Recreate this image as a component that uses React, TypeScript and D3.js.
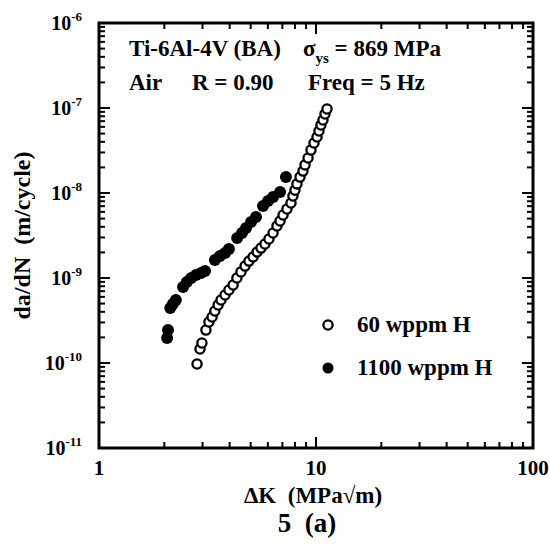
import React from "react";
import * as d3 from "d3";

// 60 wppm H (open circles)
const openK = [2.83, 2.92, 2.98, 3.11, 3.21, 3.32, 3.42, 3.54, 3.65, 3.81, 3.97, 4.15, 4.32, 4.51, 4.71, 4.91, 5.13, 5.35, 5.58, 5.82, 6.07, 6.34, 6.61, 6.83, 7.05, 7.35, 7.67, 7.83, 8.0, 8.17, 8.44, 8.71, 8.9, 9.19, 9.48, 9.79, 10.11, 10.32, 10.54, 10.77, 11.0, 11.24];
const openRate = [9.73e-11, 1.46e-10, 1.72e-10, 2.44e-10, 3.04e-10, 3.48e-10, 4.09e-10, 4.81e-10, 5.51e-10, 6.31e-10, 7.22e-10, 8.27e-10, 1.0e-9, 1.18e-9, 1.38e-9, 1.58e-9, 1.77e-9, 2.02e-9, 2.25e-9, 2.51e-9, 2.88e-9, 3.38e-9, 4.09e-9, 4.68e-9, 5.51e-9, 6.48e-9, 7.62e-9, 9.22e-9, 1.08e-8, 1.28e-8, 1.54e-8, 1.81e-8, 2.14e-8, 2.58e-8, 3.2e-8, 3.87e-8, 4.56e-8, 5.36e-8, 6.31e-8, 7.22e-8, 8.5e-8, 9.73e-8];

// 1100 wppm H (filled circles)
const filledK = [2.06, 2.08, 2.13, 2.19, 2.26, 2.44, 2.54, 2.66, 2.8, 2.95, 3.08, 3.42, 3.61, 3.81, 3.97, 4.33, 4.56, 4.76, 5.02, 5.29, 5.7, 6.01, 6.34, 6.83, 7.27];
const filledRate = [1.97e-10, 2.44e-10, 4.44e-10, 4.94e-10, 5.51e-10, 7.84e-10, 8.97e-10, 1.0e-9, 1.085e-9, 1.145e-9, 1.21e-9, 1.63e-9, 1.815e-9, 1.97e-9, 2.19e-9, 2.96e-9, 3.38e-9, 3.87e-9, 4.56e-9, 5.22e-9, 7.03e-9, 8.05e-9, 8.97e-9, 1.03e-8, 1.54e-8];

const xTickValues = [1, 10, 100];
const xTickLabels = ["1", "10", "100"];
const yTickExponents = [-6, -7, -8, -9, -10, -11];

const legendLabels = ["60 wppm H", "1100 wppm H"];

const FONT = "'Liberation Serif', 'Times New Roman', serif";

export default function App() {
  const L = 99, R = 533, T = 23, B = 448;
  const x = d3.scaleLog().domain([1, 100]).range([L, R]);
  const y = d3.scaleLog().domain([1e-11, 1e-6]).range([B, T]);

  const xMinor: number[] = [];
  for (let d = 1; d < 100; d *= 10) for (let k = 2; k <= 9; k++) xMinor.push(d * k);
  const yMinor: number[] = [];
  for (let e = -11; e < -6; e++) for (let k = 2; k <= 9; k++) yMinor.push(k * Math.pow(10, e));

  const major = 11, minor = 6;

  return (
    <svg width={550} height={550} style={{ display: "block", position: "absolute", left: 0, top: 0, background: "#fff" }} fontFamily={FONT} fontWeight="bold">
      <rect x={0} y={0} width={550} height={550} fill="#fff" />
      {/* frame */}
      <rect x={L} y={T} width={R - L} height={B - T} fill="none" stroke="#000" strokeWidth={3} />
      {/* x ticks */}
      {xMinor.map((v, i) => (
        <g key={"xm" + i} stroke="#000" strokeWidth={2}>
          <line x1={x(v)} x2={x(v)} y1={B} y2={B - minor} />
          <line x1={x(v)} x2={x(v)} y1={T} y2={T + minor} />
        </g>
      ))}
      {xTickValues.map((v, i) => (
        <g key={"xM" + i} stroke="#000" strokeWidth={2}>
          <line x1={x(v)} x2={x(v)} y1={B} y2={B - major} />
          <line x1={x(v)} x2={x(v)} y1={T} y2={T + major} />
        </g>
      ))}
      {/* y ticks */}
      {yMinor.map((v, i) => (
        <g key={"ym" + i} stroke="#000" strokeWidth={2}>
          <line x1={L} x2={L + minor} y1={y(v)} y2={y(v)} />
          <line x1={R} x2={R - minor} y1={y(v)} y2={y(v)} />
        </g>
      ))}
      {yTickExponents.map((e, i) => (
        <g key={"yM" + i} stroke="#000" strokeWidth={2}>
          <line x1={L} x2={L + major} y1={y(Math.pow(10, e))} y2={y(Math.pow(10, e))} />
          <line x1={R} x2={R - major} y1={y(Math.pow(10, e))} y2={y(Math.pow(10, e))} />
        </g>
      ))}
      {/* x tick labels */}
      {xTickValues.map((v, i) => (
        <text key={"xl" + i} x={x(v)} y={475} fontSize={21} textAnchor="middle">{xTickLabels[i]}</text>
      ))}
      {/* y tick labels */}
      {yTickExponents.map((e, i) => (
        <text key={"yl" + i} x={82} y={y(Math.pow(10, e)) + 7} fontSize={20} textAnchor="end">
          10<tspan fontSize={13} dy={-9}>{String(e)}</tspan>
        </text>
      ))}
      {/* axis titles */}
      <text x={313} y={503} fontSize={23} textAnchor="middle" style={{ whiteSpace: "pre" }}>{"ΔK  (MPa√m)"}</text>
      <text transform={`translate(30,${(T + B) / 2}) rotate(-90)`} fontSize={24} textAnchor="middle" style={{ whiteSpace: "pre" }}>{"da/dN  (m/cycle)"}</text>
      <text x={307} y={532} fontSize={27} textAnchor="middle" style={{ whiteSpace: "pre" }}>{"5  (a)"}</text>
      {/* annotations */}
      <text x={129} y={56} fontSize={23}>Ti-6Al-4V (BA)</text>
      <text x={303} y={56} fontSize={23}>σ<tspan fontSize={15} dy={7}>ys</tspan><tspan dy={-7}> = 869 MPa</tspan></text>
      <text x={129} y={90} fontSize={23}>Air</text>
      <text x={192} y={90} fontSize={23}>R = 0.90</text>
      <text x={308} y={90} fontSize={23}>Freq = 5 Hz</text>
      {/* data */}
      {filledK.map((k, i) => (
        <circle key={"f" + i} cx={x(k)} cy={y(filledRate[i])} r={6} fill="#000" />
      ))}
      {openK.map((k, i) => (
        <circle key={"o" + i} cx={x(k)} cy={y(openRate[i])} r={4.6} fill="#fff" stroke="#000" strokeWidth={2.3} />
      ))}
      {/* legend */}
      <circle cx={328} cy={325} r={4.6} fill="#fff" stroke="#000" strokeWidth={2.3} />
      <text x={357} y={332} fontSize={23}>{legendLabels[0]}</text>
      <circle cx={328} cy={368} r={5.5} fill="#000" />
      <text x={357} y={375} fontSize={23}>{legendLabels[1]}</text>
    </svg>
  );
}
